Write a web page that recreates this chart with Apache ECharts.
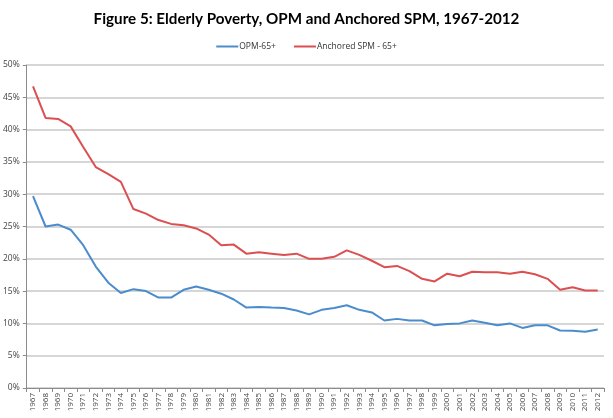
<!DOCTYPE html>
<html><head><meta charset="utf-8">
<script src="https://cdn.jsdelivr.net/npm/echarts@6/dist/echarts.min.js"></script>
<style>html,body{margin:0;padding:0;background:#fff}#c{width:613px;height:418px}</style>
</head><body><div id="c"></div>
<script>
const years = [];
for (let y = 1967; y <= 2012; y++) years.push(String(y));
const opm = [29.7,25.0,25.3,24.5,22.1,18.8,16.3,14.7,15.3,15.0,14.0,14.0,15.2,15.7,15.2,14.6,13.7,12.45,12.55,12.45,12.4,12.0,11.4,12.1,12.4,12.8,12.1,11.7,10.45,10.7,10.45,10.45,9.7,9.9,10.0,10.45,10.1,9.7,10.0,9.3,9.7,9.7,8.9,8.85,8.7,9.05];
const spm = [46.7,41.8,41.65,40.5,37.3,34.2,33.1,31.9,27.7,27.0,26.0,25.4,25.2,24.7,23.75,22.1,22.2,20.8,21.0,20.8,20.6,20.8,20.0,20.0,20.3,21.3,20.6,19.7,18.7,18.9,18.1,16.9,16.5,17.7,17.3,18.0,17.9,17.9,17.7,18.0,17.6,16.9,15.2,15.6,15.1,15.1];
const yTicks = [0,5,10,15,20,25,30,35,40,45,50];
const chart = echarts.init(document.getElementById('c'), null, {renderer:'canvas'});
chart.setOption({
  animation:false,
  backgroundColor:'#fff',
  title:{text:'Figure 5: Elderly Poverty, OPM and Anchored SPM, 1967-2012',left:'center',top:7,
    textStyle:{fontFamily:'Lato',fontWeight:'bold',fontSize:15.2,color:'#000'}},
  legend:{top:37,left:'center',itemWidth:22,itemHeight:2,itemGap:18,icon:'rect',
    textStyle:{fontFamily:'Open Sans',fontSize:8.5,color:'#333',padding:[0,0,0,-4]},
    data:['OPM-65+','Anchored SPM - 65+']},
  grid:{left:26,right:9,top:65,bottom:30,containLabel:false},
  xAxis:{type:'category',data:years,boundaryGap:true,
    axisLine:{lineStyle:{color:'#8c8c8c',width:1}},
    axisTick:{show:true,interval:0,length:4,lineStyle:{color:'#8c8c8c'}},
    axisLabel:{interval:0,rotate:90,fontFamily:'Open Sans',fontSize:8,color:'#444',margin:5}},
  yAxis:{type:'value',min:0,max:50,interval:5,
    axisLine:{show:true,lineStyle:{color:'#8c8c8c',width:1}},
    axisTick:{show:true,length:4,lineStyle:{color:'#8c8c8c'}},
    splitLine:{lineStyle:{color:'#c8c8c8',width:1.5}},
    axisLabel:{fontFamily:'Open Sans',fontSize:8.5,color:'#444',margin:7,formatter:v=>v+'%'}},
  series:[
    {name:'OPM-65+',type:'line',data:opm,showSymbol:false,symbol:'none',
      lineStyle:{color:'#4a8ccc',width:2},itemStyle:{color:'#4a8ccc'}},
    {name:'Anchored SPM - 65+',type:'line',data:spm,showSymbol:false,symbol:'none',
      lineStyle:{color:'#dc4f51',width:2},itemStyle:{color:'#dc4f51'}}
  ]
});
</script></body></html>
